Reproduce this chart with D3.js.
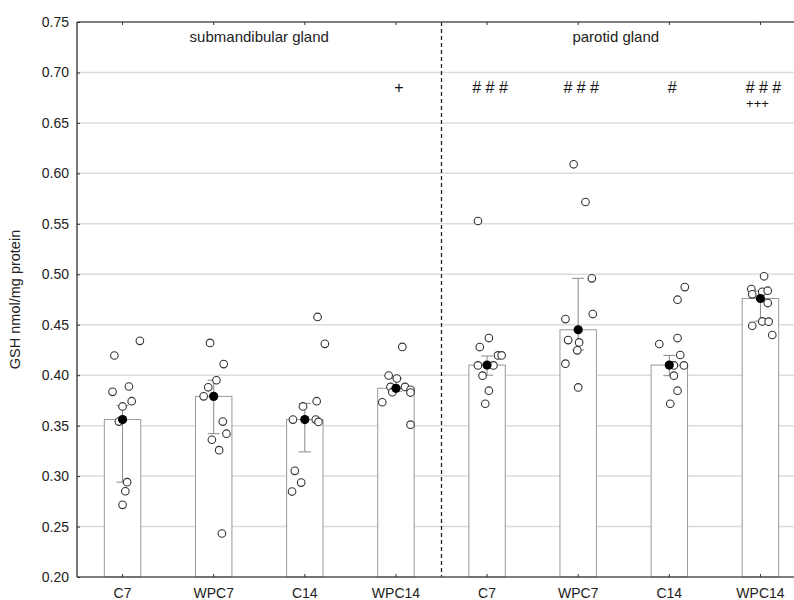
<!DOCTYPE html>
<html>
<head>
<meta charset="utf-8">
<script src="https://cdn.jsdelivr.net/npm/d3@7"></script>
<style>
  body { margin: 0; background: #fff; }
  svg { display: block; font-family: "Liberation Sans", Arial, sans-serif; }
</style>
</head>
<body>
<div id="chart"></div>
<script>
var categories = ["C7", "WPC7", "C14", "WPC14", "C7", "WPC7", "C14", "WPC14"];
var glands = ["submandibular gland", "parotid gland"];
var yTicks = [0.20, 0.25, 0.30, 0.35, 0.40, 0.45, 0.50, 0.55, 0.60, 0.65, 0.70, 0.75];

// bar height / filled dot, whisker low / high
var means = [0.356, 0.379, 0.356, 0.387, 0.410, 0.445, 0.410, 0.476];
var errLo = [0.294, 0.342, 0.324, 0.384, 0.400, 0.425, 0.3995, 0.4536];
var errHi = [0.370, 0.395, 0.372, 0.397, 0.419, 0.496, 0.4196, 0.4834];

// individual values per group
var points = [
  [0.434, 0.4195, 0.3888, 0.3835, 0.3742, 0.369, 0.354, 0.294, 0.285, 0.2715],
  [0.432, 0.411, 0.395, 0.388, 0.379, 0.354, 0.342, 0.336, 0.3257, 0.2431],
  [0.4577, 0.4311, 0.3742, 0.369, 0.356, 0.356, 0.3537, 0.3052, 0.2936, 0.2847],
  [0.428, 0.3997, 0.3967, 0.3884, 0.3884, 0.3832, 0.3855, 0.3828, 0.3732, 0.351],
  [0.5528, 0.4368, 0.4279, 0.4196, 0.4196, 0.4097, 0.4097, 0.3995, 0.3846, 0.3717],
  [0.609, 0.5716, 0.496, 0.4606, 0.4556, 0.4348, 0.4325, 0.4246, 0.4114, 0.3879],
  [0.4873, 0.4748, 0.4368, 0.4309, 0.42, 0.4097, 0.4097, 0.3995, 0.3846, 0.3717],
  [0.498, 0.4854, 0.4801, 0.4827, 0.4837, 0.4715, 0.4533, 0.453, 0.449, 0.4398]
];
// horizontal scatter of each value, as a share of the band
var jitter = [
  [0.19, -0.09, 0.07, -0.11, 0.10, 0.00, -0.04, 0.05, 0.03, 0.00],
  [-0.04, 0.11, 0.03, -0.06, -0.11, 0.10, 0.14, -0.02, 0.06, 0.09],
  [0.14, 0.22, 0.13, -0.02, -0.13, 0.12, 0.15, -0.11, -0.04, -0.14],
  [0.07, -0.08, 0.01, -0.06, 0.10, -0.04, 0.16, 0.16, -0.15, 0.16],
  [-0.10, 0.02, -0.08, 0.12, 0.16, -0.10, 0.07, -0.05, 0.02, -0.02],
  [-0.05, 0.08, 0.15, 0.16, -0.14, -0.11, 0.01, -0.01, -0.14, 0.00],
  [0.17, 0.09, 0.09, -0.11, 0.12, 0.05, 0.16, 0.05, 0.09, 0.01],
  [0.04, -0.10, -0.09, 0.02, 0.08, 0.08, 0.02, 0.09, -0.09, 0.13]
];
// significance marks above groups (line 1, line 2)
var marks1 = ["", "", "", "+", "# # #", "# # #", "#", "# # #"];
var marks2 = ["", "", "", "", "", "", "", "+++"];

var width = 794, height = 600;
var margin = {left: 77, top: 22, bottom: 23};
var plotRight = 806;   // frame goes past the picture edge

var svg = d3.select("#chart").append("svg")
    .attr("width", width)
    .attr("height", height);

var idx = d3.range(categories.length);
var x = d3.scaleBand().domain(idx).range([margin.left, plotRight]).padding(0);
var y = d3.scaleLinear().domain([0.20, 0.75]).range([height - margin.bottom, margin.top]);
var bw = x.bandwidth() * 0.4;
var cx = function (i) { return x(i) + x.bandwidth() / 2; };

// grid
svg.append("g").selectAll("line").data(yTicks.slice(1, -1)).enter().append("line")
    .attr("x1", margin.left).attr("x2", plotRight)
    .attr("y1", d => y(d)).attr("y2", d => y(d))
    .attr("stroke", "#dcdcdc").attr("stroke-width", 1.5);

// bars
svg.append("g").selectAll("rect").data(means).enter().append("rect")
    .attr("x", (d, i) => cx(i) - bw / 2)
    .attr("width", bw)
    .attr("y", d => y(d))
    .attr("height", d => y(0.20) - y(d))
    .attr("fill", "#fff").attr("stroke", "#999").attr("stroke-width", 1);

// whiskers
var eg = svg.append("g").attr("stroke", "#888").attr("stroke-width", 1);
idx.forEach(function (i) {
    eg.append("line").attr("x1", cx(i)).attr("x2", cx(i)).attr("y1", y(errLo[i])).attr("y2", y(errHi[i]));
    [errLo[i], errHi[i]].forEach(function (v) {
        eg.append("line").attr("x1", cx(i) - 6).attr("x2", cx(i) + 6).attr("y1", y(v)).attr("y2", y(v));
    });
});

// dashed separator
var sepX = x(4);
svg.append("line")
    .attr("x1", sepX).attr("x2", sepX).attr("y1", y(0.75)).attr("y2", y(0.20))
    .attr("stroke", "#222").attr("stroke-width", 1.3).attr("stroke-dasharray", "4,3");

// individual points
var pts = [];
points.forEach(function (arr, i) {
    arr.forEach(function (v, j) { pts.push({i: i, v: v, dx: jitter[i][j]}); });
});
svg.append("g").selectAll("circle").data(pts).enter().append("circle")
    .attr("cx", d => cx(d.i) + d.dx * x.bandwidth())
    .attr("cy", d => y(d.v))
    .attr("r", 3.8)
    .attr("fill", "#fff").attr("stroke", "#333").attr("stroke-width", 1.1);

// central dots
svg.append("g").selectAll("circle").data(means).enter().append("circle")
    .attr("cx", (d, i) => cx(i))
    .attr("cy", d => y(d))
    .attr("r", 4.6)
    .attr("fill", "#000");

// frame
var frame = svg.append("g").attr("stroke", "#555").attr("stroke-width", 1.6).attr("fill", "none");
frame.append("line").attr("x1", margin.left).attr("x2", margin.left).attr("y1", y(0.75)).attr("y2", y(0.20));
frame.append("line").attr("x1", margin.left).attr("x2", plotRight).attr("y1", y(0.75)).attr("y2", y(0.75));
frame.append("line").attr("x1", margin.left).attr("x2", plotRight).attr("y1", y(0.20)).attr("y2", y(0.20));

// axes (inner ticks)
var yAxis = d3.axisLeft(y).tickValues(yTicks).tickFormat(d3.format(".2f")).tickSize(-3).tickPadding(8);
svg.append("g").attr("transform", "translate(" + margin.left + ",0)").call(yAxis)
    .call(g => g.select(".domain").remove());

var xAxis = d3.axisBottom(x).tickFormat(i => categories[i]).tickSize(-3).tickPadding(11);
svg.append("g").attr("transform", "translate(0," + y(0.20) + ")").call(xAxis)
    .call(g => g.select(".domain").remove());

var xTop = d3.axisTop(x).tickFormat("").tickSize(-3);
svg.append("g").attr("transform", "translate(0," + y(0.75) + ")").call(xTop)
    .call(g => g.select(".domain").remove());

svg.selectAll(".tick text").attr("font-size", 14).attr("fill", "#222")
    .attr("font-family", "'Liberation Sans', Arial, sans-serif");
svg.selectAll(".tick line").attr("stroke", "#333");

// y label
svg.append("text")
    .attr("transform", "translate(20," + (y(0.475)) + ") rotate(-90)")
    .attr("text-anchor", "middle")
    .attr("font-size", 14.5).attr("fill", "#222")
    .text("GSH nmol/mg protein");

// group labels
svg.append("text").attr("x", (margin.left + sepX) / 2).attr("y", y(0.73))
    .attr("text-anchor", "middle").attr("font-size", 15).attr("fill", "#222").text(glands[0]);
svg.append("text").attr("x", (sepX + 790) / 2).attr("y", y(0.73))
    .attr("text-anchor", "middle").attr("font-size", 15).attr("fill", "#222").text(glands[1]);

// significance marks
svg.append("g").selectAll("text").data(marks1).enter().append("text")
    .attr("x", (d, i) => cx(i) + 3).attr("y", y(0.68))
    .attr("text-anchor", "middle").attr("font-size", 16).attr("fill", "#111")
    .attr("xml:space", "preserve").style("white-space", "pre")
    .text(d => d);
svg.append("g").selectAll("text").data(marks2).enter().append("text")
    .attr("x", (d, i) => cx(i) - 3).attr("y", y(0.665))
    .attr("text-anchor", "middle").attr("font-size", 13).attr("fill", "#111")
    .text(d => d);
</script>
</body>
</html>
